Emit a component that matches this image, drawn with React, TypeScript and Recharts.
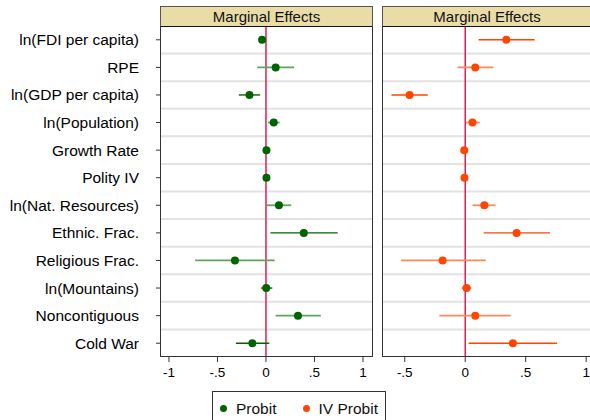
import React from 'react';
import { ScatterChart, Scatter, XAxis, YAxis, ErrorBar, ReferenceLine } from 'recharts';

const categories = [
  'ln(FDI per capita)',
  'RPE',
  'ln(GDP per capita)',
  'ln(Population)',
  'Growth Rate',
  'Polity IV',
  'ln(Nat. Resources)',
  'Ethnic. Frac.',
  'Religious Frac.',
  'ln(Mountains)',
  'Noncontiguous',
  'Cold War',
];

// Probit marginal effects + 95% CI
const probitEst = [-0.04, 0.1, -0.17, 0.08, 0.005, 0.005, 0.134, 0.39, -0.32, 0.003, 0.33, -0.14];
const probitLo = [-0.05, -0.09, -0.28, 0.02, -0.002, -0.002, 0.01, 0.045, -0.73, -0.05, 0.1, -0.31];
const probitHi = [-0.03, 0.29, -0.06, 0.14, 0.012, 0.012, 0.26, 0.74, 0.09, 0.065, 0.565, 0.034];

// IV probit marginal effects + 95% CI
const ivEst = [0.34, 0.083, -0.46, 0.06, -0.008, -0.006, 0.158, 0.425, -0.187, 0.011, 0.083, 0.394];
const ivLo = [0.11, -0.064, -0.61, 0.005, -0.015, -0.012, 0.06, 0.153, -0.53, -0.028, -0.214, 0.028];
const ivHi = [0.575, 0.233, -0.31, 0.12, -0.001, 0.0, 0.25, 0.7, 0.17, 0.05, 0.375, 0.76];

const xTicks = [-1, -0.5, 0, 0.5, 1];

// rows whose CI is drawn in the lighter shade
const lightRows = [1, 3, 4, 6, 8, 10];

const FONT = '"Liberation Sans", Arial, sans-serif';
const ROW_TICKS = categories.map((_, i) => i);
const GRID_Y = categories.slice(1).map((_, i) => i + 0.5);

const fmt = (v: number) => {
  if (v === 0) return '0';
  const s = String(v);
  return s.replace('0.', '.');
};

const buildRows = (est: number[], lo: number[], hi: number[]) =>
  categories.map((name, i) => ({ name, row: i, v: est[i], err: [est[i] - lo[i], hi[i] - est[i]] }));

const dot = (fill: string) => (props: any) => <circle cx={props.cx} cy={props.cy} r={4} fill={fill} />;

type PanelProps = {
  est: number[];
  lo: number[];
  hi: number[];
  dark: string;
  light: string;
  domain: [number, number];
  width: number;
  left: number;
  showLabels: boolean;
};

const Panel: React.FC<PanelProps> = ({ est, lo, hi, dark, light, domain, width, left, showLabels }) => {
  const rows = buildRows(est, lo, hi);
  const darkRows = rows.filter((r) => !lightRows.includes(r.row));
  const lightSet = rows.filter((r) => lightRows.includes(r.row));
  const yW = showLabels ? 161 : 0;
  const plotLeft = left + yW;
  const plotW = width - yW - (showLabels ? 1 : 0);
  return (
    <>
      <div style={{ position: 'absolute', left, top: 0 }}>
        <ScatterChart width={width} height={390} margin={{ top: 26, right: showLabels ? 1 : 0, bottom: 0, left: 0 }}>
          <XAxis
            type="number"
            dataKey="v"
            domain={domain}
            allowDataOverflow
            ticks={xTicks}
            tickFormatter={fmt}
            axisLine={false}
            tickSize={5}
            tickMargin={5}
            height={33}
            stroke="#333"
            tick={{ fill: '#000', fontSize: 13.5, fontFamily: FONT }}
          />
          <YAxis
            type="number"
            dataKey="row"
            domain={[-0.5, 11.5]}
            reversed
            ticks={ROW_TICKS}
            interval={0}
            tickFormatter={(i: number) => categories[i]}
            hide={!showLabels}
            width={yW}
            axisLine={false}
            tickSize={5}
            tickMargin={17}
            stroke="#333"
            tick={{ fill: '#000', fontSize: 15.5, fontFamily: FONT }}
          />
          {GRID_Y.map((y) => (
            <ReferenceLine key={y} y={y} stroke="#e2e2e2" strokeWidth={2} />
          ))}
          <ReferenceLine x={0} stroke="#dc1e50" strokeWidth={1.5} />
          <Scatter data={lightSet} isAnimationActive={false} shape={dot(dark)}>
            <ErrorBar dataKey="err" direction="x" width={0} stroke={light} strokeWidth={1.8} isAnimationActive={false} />
          </Scatter>
          <Scatter data={darkRows} isAnimationActive={false} shape={dot(dark)}>
            <ErrorBar dataKey="err" direction="x" width={0} stroke={dark} strokeWidth={1.4} isAnimationActive={false} />
          </Scatter>
        </ScatterChart>
      </div>
      <div
        style={{
          position: 'absolute',
          left: plotLeft - 1,
          top: 6,
          width: plotW,
          height: 19,
          background: '#e9dca7',
          borderTop: '1px solid #555',
          borderLeft: '1px solid #555',
          borderRight: '1px solid #555',
          borderBottom: '1.5px solid #111',
          textAlign: 'center',
          fontFamily: FONT,
          fontSize: 15,
          lineHeight: '19px',
          color: '#111',
        }}
      >
        Marginal Effects
      </div>
      <div
        style={{
          position: 'absolute',
          left: plotLeft - 1,
          top: 26,
          width: plotW,
          height: 330,
          borderLeft: '1px solid #333',
          borderRight: '1px solid #333',
          borderBottom: '1px solid #333',
          pointerEvents: 'none',
        }}
      />
    </>
  );
};

const LegendItem: React.FC<{ color: string; label: string; gap: number }> = ({ color, label, gap }) => (
  <span style={{ display: 'inline-flex', alignItems: 'center', marginRight: gap, whiteSpace: 'nowrap' }}>
    <span style={{ width: 7, height: 7, borderRadius: '50%', background: color, marginRight: 9, flexShrink: 0 }} />
    <span>{label}</span>
  </span>
);

export default function App() {
  return (
    <div
      style={{
        position: 'absolute',
        left: 0,
        top: 0,
        width: 590,
        height: 420,
        overflow: 'hidden',
        background: '#fff',
        fontFamily: FONT,
      }}
    >
      <Panel
        est={probitEst}
        lo={probitLo}
        hi={probitHi}
        dark="#006400"
        light="#5fa35f"
        domain={[-1.082, 1.093]}
        width={373}
        left={0}
        showLabels
      />
      <Panel
        est={ivEst}
        lo={ivLo}
        hi={ivHi}
        dark="#ff4500"
        light="#ff875a"
        domain={[-0.68, 1.04]}
        width={208}
        left={383}
        showLabels={false}
      />
      <div
        style={{
          position: 'absolute',
          left: 212,
          top: 391,
          width: 174,
          height: 40,
          border: '1px solid #333',
          boxSizing: 'border-box',
          paddingLeft: 7,
          paddingTop: 8,
          fontSize: 15.5,
          lineHeight: '17px',
          color: '#111',
          display: 'flex',
          alignItems: 'flex-start',
          whiteSpace: 'nowrap',
        }}
      >
        <LegendItem color="#006400" label="Probit" gap={26} />
        <LegendItem color="#ff4500" label="IV Probit" gap={0} />
      </div>
    </div>
  );
}
